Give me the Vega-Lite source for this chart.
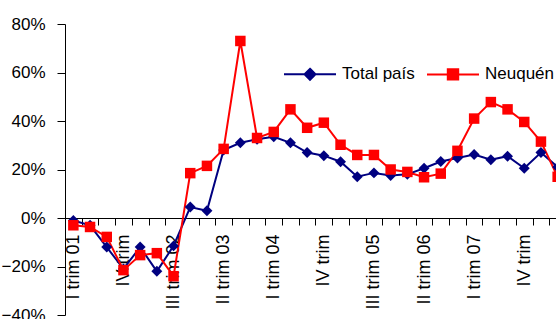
{
  "$schema": "https://vega.github.io/schema/vega-lite/v6.json",
  "autosize": {"type": "none"},
  "padding": {"left": 65, "top": 24, "right": 0, "bottom": 4},
  "width": 491,
  "height": 291,
  "background": "white",
  "config": {
    "view": {"stroke": null},
    "font": "Liberation Sans",
    "axis": {"labelFont": "Liberation Sans", "labelColor": "#000000", "domainColor": "#000000", "tickColor": "#000000", "domainWidth": 1, "tickWidth": 1, "grid": false, "title": null}
  },
  "datasets": {
    "series": [
      {"q": "I trim 01", "series": "Total país", "v": -0.01},
      {"q": "II trim 01", "series": "Total país", "v": -0.03},
      {"q": "III trim 01", "series": "Total país", "v": -0.12},
      {"q": "IV trim 01", "series": "Total país", "v": -0.21},
      {"q": "I trim 02", "series": "Total país", "v": -0.12},
      {"q": "II trim 02", "series": "Total país", "v": -0.22},
      {"q": "III trim 02", "series": "Total país", "v": -0.115},
      {"q": "IV trim 02", "series": "Total país", "v": 0.045},
      {"q": "I trim 03", "series": "Total país", "v": 0.03},
      {"q": "II trim 03", "series": "Total país", "v": 0.28},
      {"q": "III trim 03", "series": "Total país", "v": 0.31},
      {"q": "IV trim 03", "series": "Total país", "v": 0.325},
      {"q": "I trim 04", "series": "Total país", "v": 0.335},
      {"q": "II trim 04", "series": "Total país", "v": 0.31},
      {"q": "III trim 04", "series": "Total país", "v": 0.27},
      {"q": "IV trim 04", "series": "Total país", "v": 0.257},
      {"q": "I trim 05", "series": "Total país", "v": 0.232},
      {"q": "II trim 05", "series": "Total país", "v": 0.17},
      {"q": "III trim 05", "series": "Total país", "v": 0.186},
      {"q": "IV trim 05", "series": "Total país", "v": 0.175},
      {"q": "I trim 06", "series": "Total país", "v": 0.18},
      {"q": "II trim 06", "series": "Total país", "v": 0.205},
      {"q": "III trim 06", "series": "Total país", "v": 0.233},
      {"q": "IV trim 06", "series": "Total país", "v": 0.247},
      {"q": "I trim 07", "series": "Total país", "v": 0.262},
      {"q": "II trim 07", "series": "Total país", "v": 0.24},
      {"q": "III trim 07", "series": "Total país", "v": 0.255},
      {"q": "IV trim 07", "series": "Total país", "v": 0.205},
      {"q": "I trim 08", "series": "Total país", "v": 0.27},
      {"q": "II trim 08", "series": "Total país", "v": 0.21},
      {"q": "I trim 01", "series": "Neuquén", "v": -0.03},
      {"q": "II trim 01", "series": "Neuquén", "v": -0.037},
      {"q": "III trim 01", "series": "Neuquén", "v": -0.078},
      {"q": "IV trim 01", "series": "Neuquén", "v": -0.215},
      {"q": "I trim 02", "series": "Neuquén", "v": -0.153},
      {"q": "II trim 02", "series": "Neuquén", "v": -0.145},
      {"q": "III trim 02", "series": "Neuquén", "v": -0.24},
      {"q": "IV trim 02", "series": "Neuquén", "v": 0.185},
      {"q": "I trim 03", "series": "Neuquén", "v": 0.215},
      {"q": "II trim 03", "series": "Neuquén", "v": 0.285},
      {"q": "III trim 03", "series": "Neuquén", "v": 0.73},
      {"q": "IV trim 03", "series": "Neuquén", "v": 0.33},
      {"q": "I trim 04", "series": "Neuquén", "v": 0.355},
      {"q": "II trim 04", "series": "Neuquén", "v": 0.448},
      {"q": "III trim 04", "series": "Neuquén", "v": 0.372},
      {"q": "IV trim 04", "series": "Neuquén", "v": 0.393},
      {"q": "I trim 05", "series": "Neuquén", "v": 0.302},
      {"q": "II trim 05", "series": "Neuquén", "v": 0.26},
      {"q": "III trim 05", "series": "Neuquén", "v": 0.26},
      {"q": "IV trim 05", "series": "Neuquén", "v": 0.2},
      {"q": "I trim 06", "series": "Neuquén", "v": 0.19},
      {"q": "II trim 06", "series": "Neuquén", "v": 0.168},
      {"q": "III trim 06", "series": "Neuquén", "v": 0.183},
      {"q": "IV trim 06", "series": "Neuquén", "v": 0.277},
      {"q": "I trim 07", "series": "Neuquén", "v": 0.41},
      {"q": "II trim 07", "series": "Neuquén", "v": 0.478},
      {"q": "III trim 07", "series": "Neuquén", "v": 0.448},
      {"q": "IV trim 07", "series": "Neuquén", "v": 0.396},
      {"q": "I trim 08", "series": "Neuquén", "v": 0.315},
      {"q": "II trim 08", "series": "Neuquén", "v": 0.17}
    ]
  },
  "data": {"name": "series"},
  "encoding": {
    "x": {
      "field": "q",
      "type": "ordinal",
      "scale": {
        "domain": ["I trim 01", "II trim 01", "III trim 01", "IV trim 01", "I trim 02", "II trim 02", "III trim 02", "IV trim 02", "I trim 03", "II trim 03", "III trim 03", "IV trim 03", "I trim 04", "II trim 04", "III trim 04", "IV trim 04", "I trim 05", "II trim 05", "III trim 05", "IV trim 05", "I trim 06", "II trim 06", "III trim 06", "IV trim 06", "I trim 07", "II trim 07", "III trim 07", "IV trim 07", "I trim 08", "II trim 08"],
        "range": [0, 501],
        "paddingInner": 0,
        "paddingOuter": 0
      },
      "axis": {
        "offset": -97,
        "tickBand": "extent",
        "tickSize": 7,
        "labelAngle": -90,
        "labelPadding": 9,
        "labelFontSize": 18,
        "labelOverlap": false,
        "labelExpr": "indexof(['I trim 01','III trim 02','II trim 03','I trim 04','III trim 05','II trim 06','I trim 07'], datum.value) >= 0 ? datum.value : (indexof(['IV trim 01','IV trim 04','IV trim 07'], datum.value) >= 0 ? 'IV trim' : '')"
      }
    },
    "y": {
      "field": "v",
      "type": "quantitative",
      "scale": {"domain": [-0.4, 0.8], "nice": false, "zero": false},
      "axis": {
        "values": [-0.4, -0.2, 0, 0.2, 0.4, 0.6, 0.8],
        "format": ".0%",
        "tickSize": 8,
        "labelPadding": 12,
        "labelFontSize": 17
      }
    },
    "color": {
      "field": "series",
      "type": "nominal",
      "scale": {"domain": ["Total país", "Neuquén"], "range": ["#000080", "#FF0000"]},
      "legend": {
        "title": null,
        "orient": "none",
        "legendX": 218,
        "legendY": 23,
        "direction": "horizontal",
        "columns": 2,
        "columnPadding": 8,
        "padding": 0,
        "symbolSize": 2704,
        "symbolStrokeWidth": 2,
        "labelOffset": 5,
        "labelFont": "Liberation Sans",
        "labelFontSize": 17,
        "labelColor": "#000000",
        "labelLimit": 200,
        "encode": {
          "symbols": {
            "update": {
              "shape": {"signal": "datum.value === 'Total país' ? 'M-1,0L1,0M0,-0.21L0.21,0L0,0.21L-0.21,0Z' : 'M-1,0L1,0M-0.2,-0.2L0.2,-0.2L0.2,0.2L-0.2,0.2Z'"},
              "fill": {"signal": "datum.value === 'Total país' ? '#000080' : '#FF0000'"},
              "stroke": {"signal": "datum.value === 'Total país' ? '#000080' : '#FF0000'"},
              "strokeWidth": {"value": 2},
              "size": {"value": 2704},
              "opacity": {"value": 1}
            }
          }
        }
      }
    },
    "order": {"value": null}
  },
  "layer": [
    {"mark": {"type": "line", "strokeWidth": 2}},
    {
      "transform": [{"filter": "datum.series === 'Total país'"}],
      "mark": {"type": "point", "filled": true, "size": 120, "opacity": 1, "shape": "diamond"}
    },
    {
      "transform": [{"filter": "datum.series === 'Neuquén'"}],
      "mark": {"type": "point", "filled": true, "size": 110, "opacity": 1, "shape": "square"}
    }
  ]
}
